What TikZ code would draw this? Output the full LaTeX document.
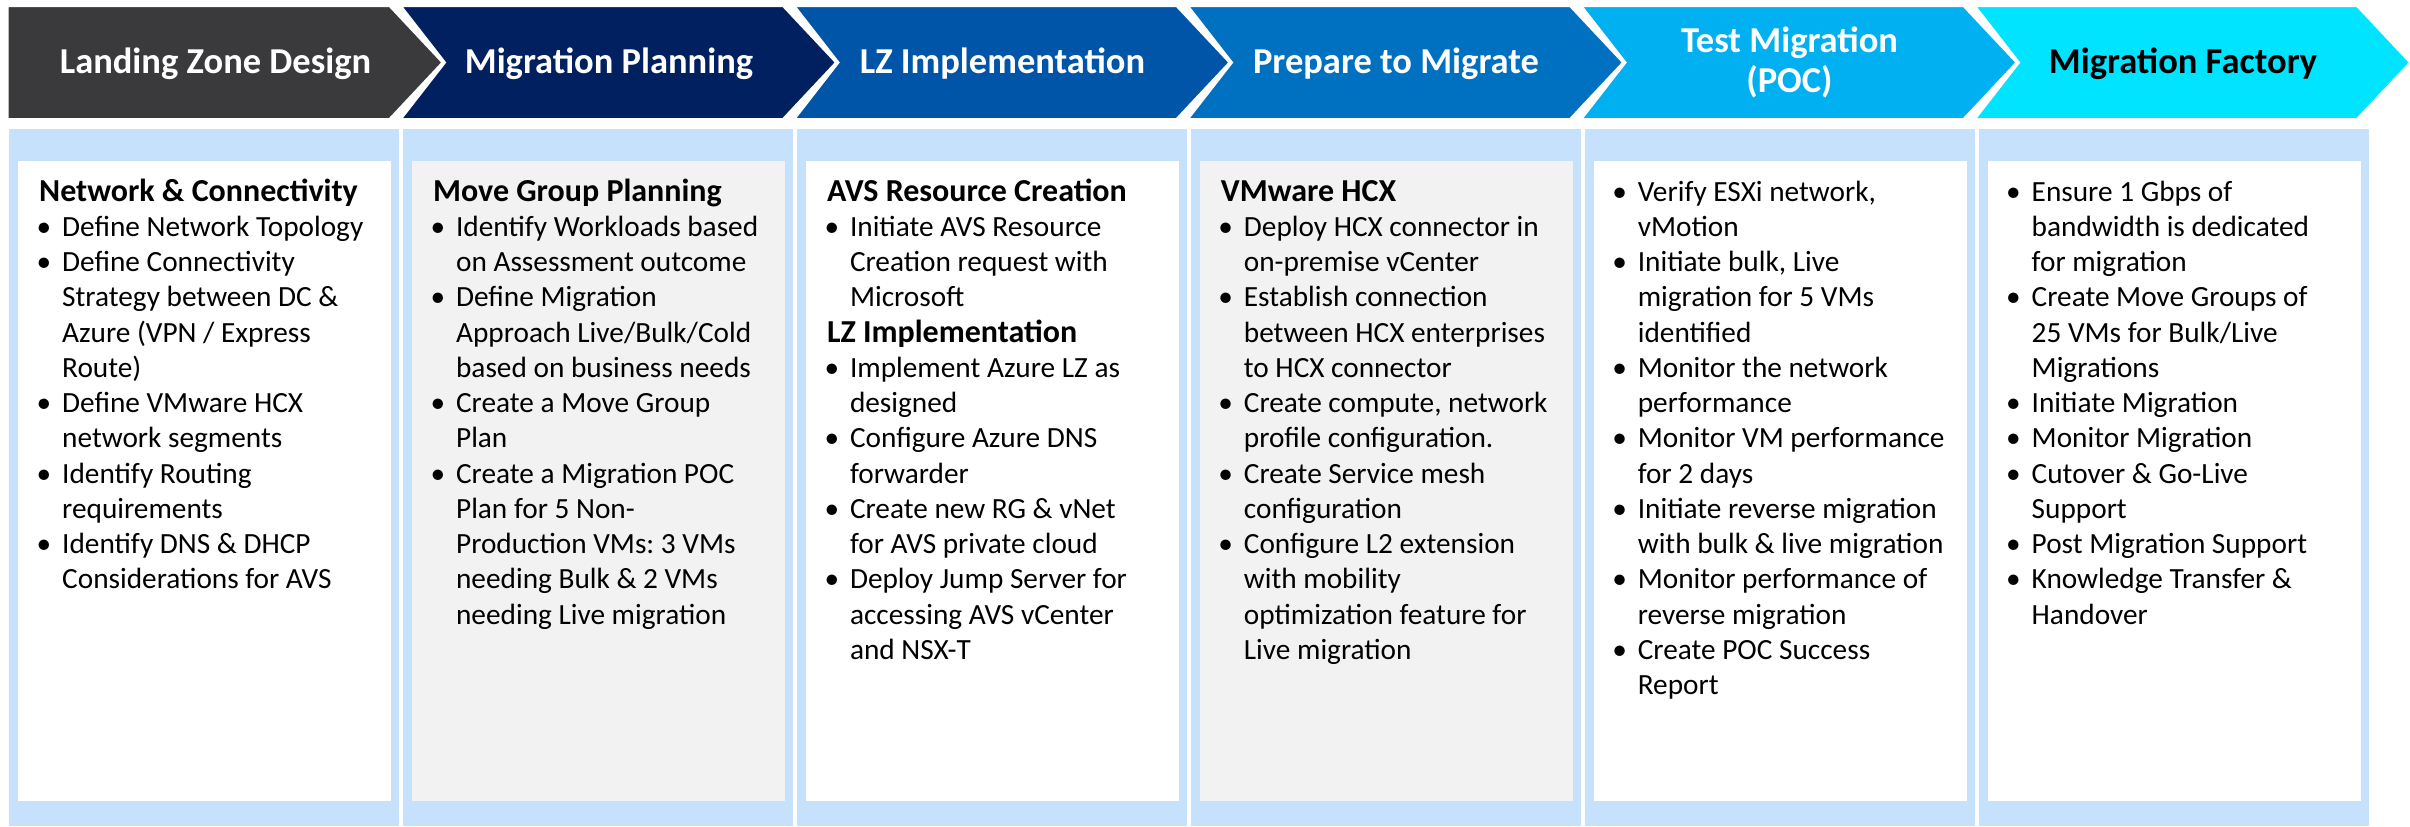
\documentclass[tikz,border=0pt]{standalone}
\usepackage{fontspec}
\setmainfont{Carlito}
\definecolor{cA}{RGB}{58,58,60}
\definecolor{cB}{RGB}{0,32,96}
\definecolor{cC}{RGB}{0,85,168}
\definecolor{cD}{RGB}{0,112,192}
\definecolor{cE}{RGB}{0,176,240}
\definecolor{cF}{RGB}{0,228,255}
\definecolor{lblue}{RGB}{198,225,251}
\definecolor{lgray}{RGB}{242,242,242}
\frenchspacing
\newcommand\hd[1]{\par\noindent{\fontsize{32}{35.25}\selectfont\bfseries #1}}
\newcommand\bitem[1]{\par\hangindent=23pt\hangafter=1\noindent\makebox[23pt][l]{\hspace*{-2.5pt}•}#1}
\newcommand\colbox[1]{\vtop{\hsize=372pt\parindent=0pt\parskip=0pt\frenchspacing\raggedright #1\par}}
\tikzset{
  chev/.style={draw=white, line width=2pt, line join=miter},
  hdr/.style={font=\bfseries\fontsize{36.5}{40}\selectfont, text=white, align=center, inner sep=0pt},
  body/.style={anchor=base west, inner sep=0pt, font=\fontsize{29.3}{35.25}\selectfont},
  outerp/.style={fill=lblue},
  innerw/.style={fill=white},
  innerg/.style={fill=lgray}
}
\begin{document}
\begin{tikzpicture}[x=1pt,y=-1pt]
\useasboundingbox (0,0) rectangle (2410,827);
% header chevrons
\fill[cA,chev] (7.5,6) -- (389.5,6) -- (442.5,62.5) -- (389.5,119) -- (7.5,119) -- cycle;
\fill[cB,chev] (401,6) -- (783,6) -- (836,62.5) -- (783,119) -- (401,119) -- (445,62.5) -- cycle;
\fill[cC,chev] (794.5,6) -- (1176.5,6) -- (1229.5,62.5) -- (1176.5,119) -- (794.5,119) -- (838.5,62.5) -- cycle;
\fill[cD,chev] (1188,6) -- (1570,6) -- (1623,62.5) -- (1570,119) -- (1188,119) -- (1232,62.5) -- cycle;
\fill[cE,chev] (1581.5,6) -- (1963.5,6) -- (2016.5,62.5) -- (1963.5,119) -- (1581.5,119) -- (1625.5,62.5) -- cycle;
\fill[cF,chev] (1975,6) -- (2357,6) -- (2410,62.5) -- (2357,119) -- (1975,119) -- (2019,62.5) -- cycle;
\node[hdr] (h1) at (215.5,63.5) {Landing Zone Design};
\node[hdr] (h2) at (609,63.5) {Migration Planning};
\node[hdr] (h3) at (1002.5,63.5) {LZ Implementation};
\node[hdr] (h4) at (1396,63.5) {Prepare to Migrate};
\node[hdr] (h5) at (1789.5,62.5) {Test Migration\\(POC)};
\node[hdr,text=black] (h6) at (2183,63.5) {Migration Factory};
% panels
\foreach \L/\st in {9/innerw,402.9/innerg,796.8/innerw,1190.7/innerg,1584.6/innerw,1978.5/innerw}{
  \fill[outerp] (\L,129) rectangle (\L+390,826);
  \fill[\st] (\L+9,161) rectangle (\L+382,801);
}
\node[body] (p1) at (39,201) {\colbox{%
\hd{Network \& Connectivity}
\bitem{Define Network Topology}
\bitem{Define Connectivity\newline Strategy between DC \&\newline Azure (VPN / Express\newline Route)}
\bitem{Define VMware HCX\newline network segments}
\bitem{Identify Routing\newline requirements}
\bitem{Identify DNS \& DHCP\newline Considerations for AVS}}};
\node[body] (p2) at (432.9,201) {\colbox{%
\hd{Move Group Planning}
\bitem{Identify Workloads based\newline on Assessment outcome}
\bitem{Define Migration\newline Approach Live/Bulk/Cold\newline based on business needs}
\bitem{Create a Move Group\newline Plan}
\bitem{Create a Migration POC\newline Plan for 5 Non-\newline Production VMs: 3 VMs\newline needing Bulk \& 2 VMs\newline needing Live migration}}};
\node[body] (p3) at (826.8,201) {\colbox{%
\hd{AVS Resource Creation}
\bitem{Initiate AVS Resource\newline Creation request with\newline Microsoft}
\hd{LZ Implementation}
\bitem{Implement Azure LZ as\newline designed}
\bitem{Configure Azure DNS\newline forwarder}
\bitem{Create new RG \& vNet\newline for AVS private cloud}
\bitem{Deploy Jump Server for\newline accessing AVS vCenter\newline and NSX-T}}};
\node[body] (p4) at (1220.7,201) {\colbox{%
\hd{VMware HCX}
\bitem{Deploy HCX connector in\newline on-premise vCenter}
\bitem{Establish connection\newline between HCX enterprises\newline to HCX connector}
\bitem{Create compute, network\newline profile configuration.}
\bitem{Create Service mesh\newline configuration}
\bitem{Configure L2 extension\newline with mobility\newline optimization feature for\newline Live migration}}};
\node[body] (p5) at (1614.6,201) {\colbox{%
\bitem{Verify ESXi network,\newline vMotion}
\bitem{Initiate bulk, Live\newline migration for 5 VMs\newline identified}
\bitem{Monitor the network\newline performance}
\bitem{Monitor VM performance\newline for 2 days}
\bitem{Initiate reverse migration\newline with bulk \& live migration}
\bitem{Monitor performance of\newline reverse migration}
\bitem{Create POC Success\newline Report}}};
\node[body] (p6) at (2008.5,201) {\colbox{%
\bitem{Ensure 1 Gbps of\newline bandwidth is dedicated\newline for migration}
\bitem{Create Move Groups of\newline 25 VMs for Bulk/Live\newline Migrations}
\bitem{Initiate Migration}
\bitem{Monitor Migration}
\bitem{Cutover \& Go-Live\newline Support}
\bitem{Post Migration Support}
\bitem{Knowledge Transfer \&\newline Handover}}};
\end{tikzpicture}
\end{document}
